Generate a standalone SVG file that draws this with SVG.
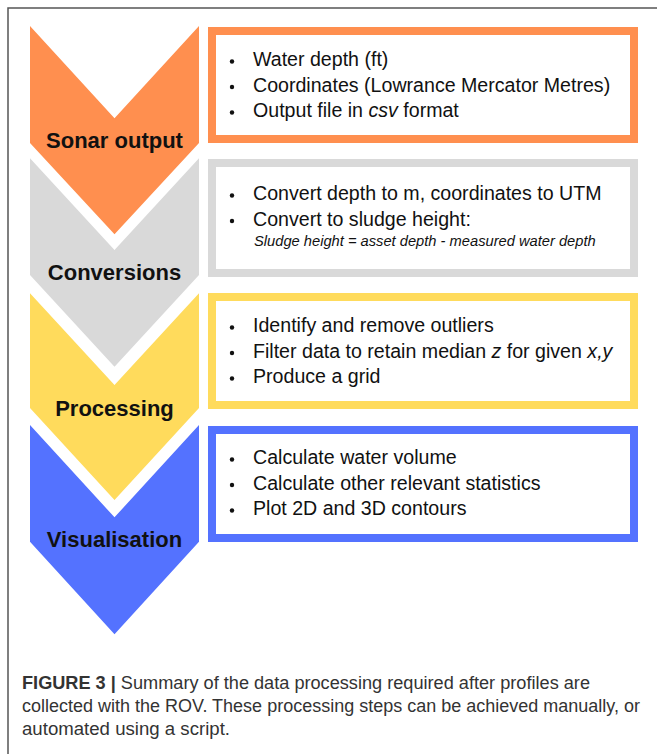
<svg xmlns="http://www.w3.org/2000/svg" width="657" height="754" viewBox="0 0 657 754">
<style>
.lbl{font-family:"Liberation Sans",Arial,sans-serif;font-weight:bold;font-size:22px;fill:#111;text-anchor:middle}
.txt{font-family:"Liberation Sans",Arial,sans-serif;font-size:19.6px;fill:#111}
.sm{font-family:"Liberation Sans",Arial,sans-serif;font-size:14.7px;font-style:italic;fill:#111}
.box{fill:#fff;stroke-width:8}
.cap{font-family:"Liberation Sans",Arial,sans-serif;font-size:17.5px;fill:#333}
.dot{fill:#111}
</style>
<rect x="0" y="0" width="657" height="754" fill="#fff"/>
<path d="M8 754 V8 H657" fill="none" stroke="#555" stroke-width="1.5"/>

<g id="sonar-output">
<polygon points="30,26 114.5,118.3 199,26 199,143 114.5,234.3 30,143" fill="#FF8F4F"/>
<text class="lbl" x="114.5" y="148">Sonar output</text>
<rect class="box" x="212" y="31" width="422" height="108" stroke="#FF8F4F"/>
<circle class="dot" cx="232" cy="61.5" r="2.2"/>
<circle class="dot" cx="232" cy="87" r="2.2"/>
<circle class="dot" cx="232" cy="112.5" r="2.2"/>
<text class="txt" x="253" y="66">Water depth (ft)</text>
<text class="txt" x="253" y="91.5">Coordinates (Lowrance Mercator Metres)</text>
<text class="txt" x="253" y="117">Output file in <tspan font-style="italic">csv</tspan> format</text>
</g>

<g id="conversions">
<polygon points="30,158.3 114.5,250 199,158.3 199,275 114.5,366.7 30,275" fill="#D9D9D9"/>
<text class="lbl" x="114.5" y="280">Conversions</text>
<rect class="box" x="212" y="163" width="422" height="110" stroke="#D9D9D9"/>
<circle class="dot" cx="232" cy="195.5" r="2.2"/>
<circle class="dot" cx="232" cy="221" r="2.2"/>
<text class="txt" x="253" y="200">Convert depth to m, coordinates to UTM</text>
<text class="txt" x="253" y="225.5">Convert to sludge height:</text>
<text class="sm" x="254" y="246">Sludge height = asset depth - measured water depth</text>
</g>

<g id="processing">
<polygon points="30,293.3 114.5,385 199,293.3 199,408 114.5,500 30,408" fill="#FFDB5C"/>
<text class="lbl" x="114.5" y="415.5">Processing</text>
<rect class="box" x="212" y="297" width="422" height="108" stroke="#FFDB5C"/>
<circle class="dot" cx="232" cy="327.5" r="2.2"/>
<circle class="dot" cx="232" cy="353" r="2.2"/>
<circle class="dot" cx="232" cy="378.5" r="2.2"/>
<text class="txt" x="253" y="332">Identify and remove outliers</text>
<text class="txt" x="253" y="357.5">Filter data to retain median <tspan font-style="italic">z</tspan> for given <tspan font-style="italic">x,y</tspan></text>
<text class="txt" x="253" y="383">Produce a grid</text>
</g>

<g id="visualisation">
<polygon points="30,425 114.5,517.3 199,425 199,541.7 114.5,634.3 30,541.7" fill="#5472FF"/>
<text class="lbl" x="114.5" y="547">Visualisation</text>
<rect class="box" x="212" y="430" width="422" height="108" stroke="#5472FF"/>
<circle class="dot" cx="232" cy="459.5" r="2.2"/>
<circle class="dot" cx="232" cy="485" r="2.2"/>
<circle class="dot" cx="232" cy="510.5" r="2.2"/>
<text class="txt" x="253" y="464">Calculate water volume</text>
<text class="txt" x="253" y="489.5">Calculate other relevant statistics</text>
<text class="txt" x="253" y="515">Plot 2D and 3D contours</text>
</g>

<g id="connectors"></g>

<g id="caption">
<text class="cap" x="22" y="689" textLength="568" lengthAdjust="spacingAndGlyphs"><tspan font-weight="bold">FIGURE 3 |</tspan> Summary of the data processing required after profiles are</text>
<text class="cap" x="22" y="712" textLength="618" lengthAdjust="spacingAndGlyphs">collected with the ROV. These processing steps can be achieved manually, or</text>
<text class="cap" x="22" y="735" textLength="208" lengthAdjust="spacingAndGlyphs">automated using a script.</text>
</g>
</svg>
